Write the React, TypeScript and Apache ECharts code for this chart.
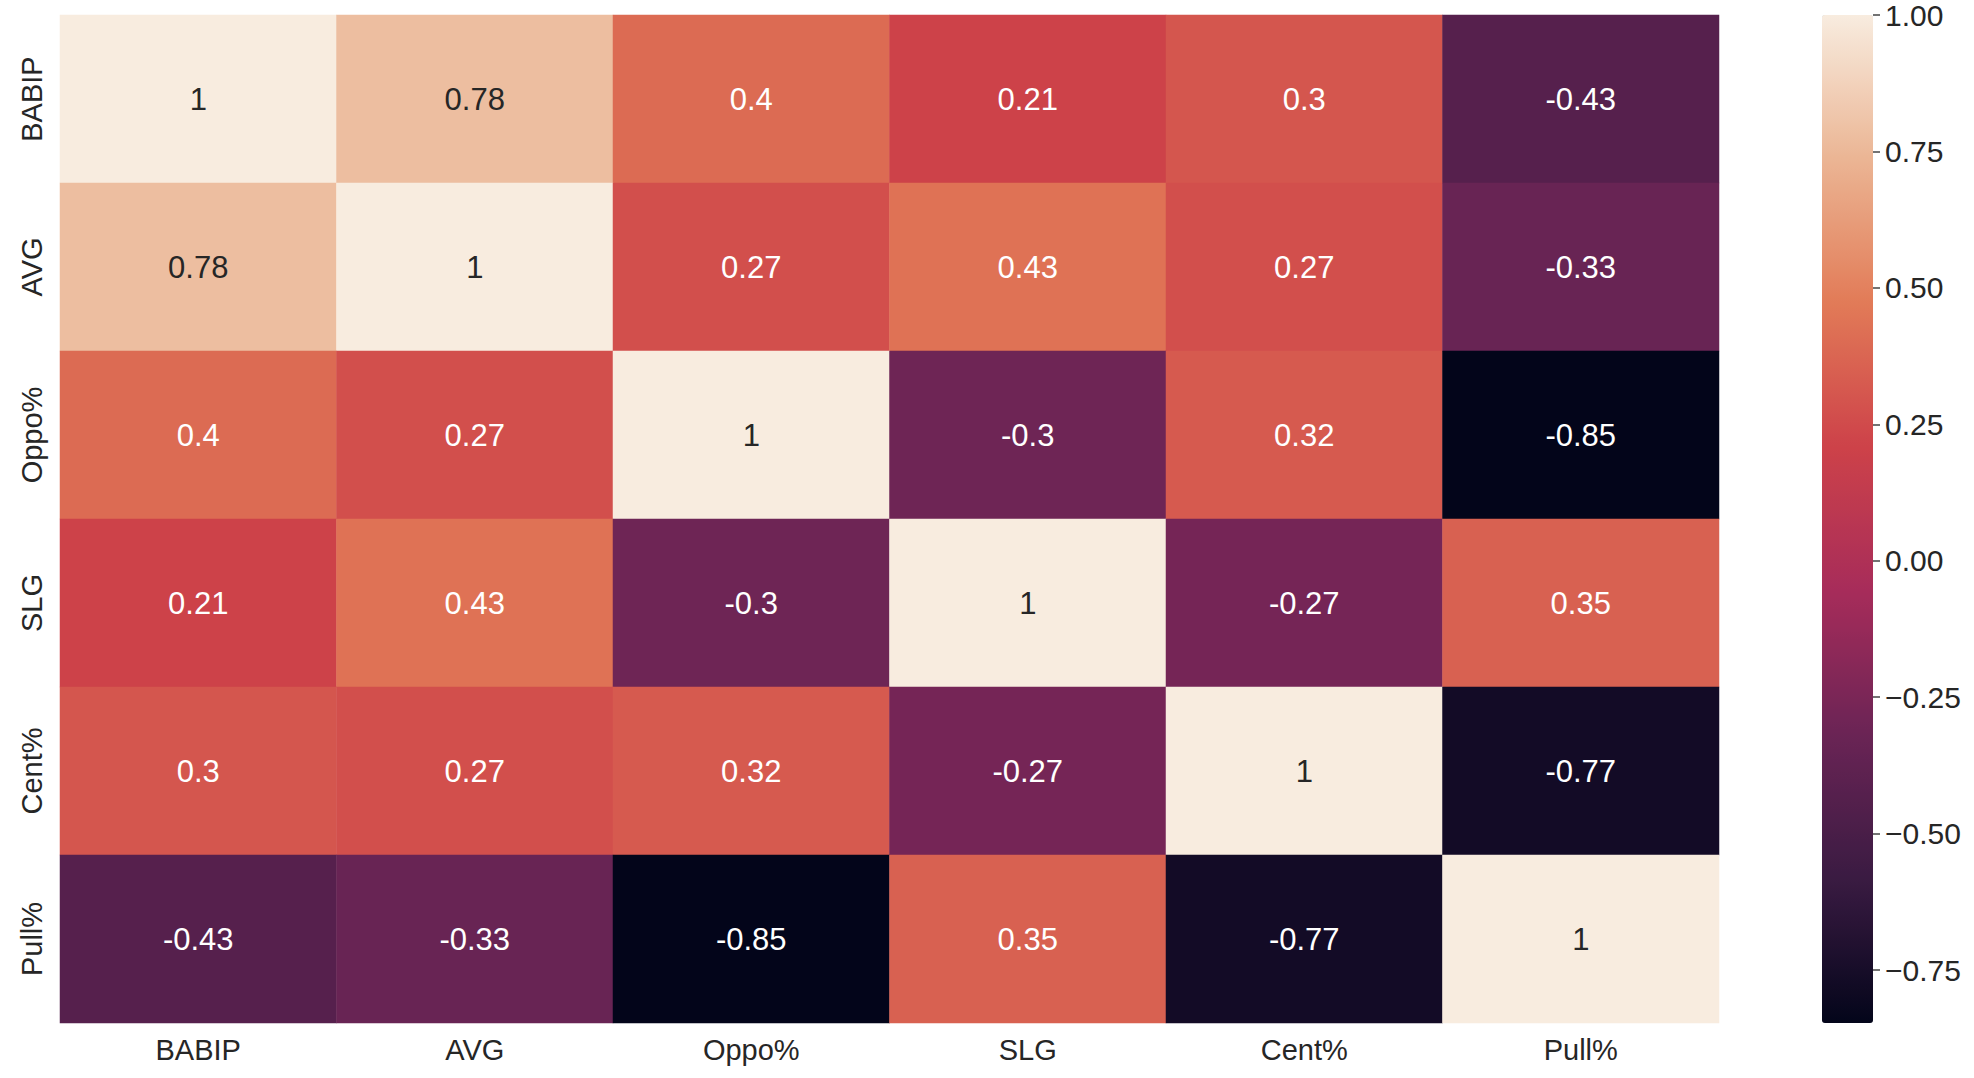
import React, { useEffect, useRef } from "react";
import * as echarts from "echarts";

const labels = ["BABIP", "AVG", "Oppo%", "SLG", "Cent%", "Pull%"];
const rowBABIP = [1, 0.78, 0.4, 0.21, 0.3, -0.43];
const rowAVG = [0.78, 1, 0.27, 0.43, 0.27, -0.33];
const rowOppo = [0.4, 0.27, 1, -0.3, 0.32, -0.85];
const rowSLG = [0.21, 0.43, -0.3, 1, -0.27, 0.35];
const rowCent = [0.3, 0.27, 0.32, -0.27, 1, -0.77];
const rowPull = [-0.43, -0.33, -0.85, 0.35, -0.77, 1];
const matrix = [rowBABIP, rowAVG, rowOppo, rowSLG, rowCent, rowPull];
const colorbarTicks = [-0.75, -0.5, -0.25, 0, 0.25, 0.5, 0.75, 1.0];
const vMin = -0.847;
const vMax = 1;
const rocket = ["#03051a", "#3a1b42", "#6a2455", "#a72c5a", "#cd4249", "#e27b57", "#ebb594", "#f8ecdf"];

const FONT = "'Liberation Sans', Arial, sans-serif";
const TEXT = "#262626";

export default function App() {
  const ref = useRef<HTMLDivElement>(null);
  useEffect(() => {
    if (!ref.current) return;
    const chart = echarts.init(ref.current, null, { renderer: "svg" });
    const data: any[] = [];
    matrix.forEach((row, yi) => {
      row.forEach((v, xi) => {
        data.push({
          value: [xi, yi, v],
          label: { color: v > 0.6 ? TEXT : "#ffffff" },
        });
      });
    });
    chart.setOption({
      animation: false,
      backgroundColor: "#ffffff",
      textStyle: { fontFamily: FONT },
      grid: [
        { left: 60, top: 15, width: 1659, height: 1008 },
        { left: 1822, top: 15, width: 51, height: 1008 },
      ],
      xAxis: [
        {
          type: "category",
          gridIndex: 0,
          data: labels,
          axisLine: { show: false },
          axisTick: { show: false },
          splitLine: { show: false },
          axisLabel: { fontSize: 29, color: TEXT, fontFamily: FONT, margin: 12 },
        },
        {
          type: "value",
          gridIndex: 1,
          show: false,
          min: 0,
          max: 1,
        },
      ],
      yAxis: [
        {
          type: "category",
          gridIndex: 0,
          data: labels,
          inverse: true,
          axisLine: { show: false },
          axisTick: { show: false },
          splitLine: { show: false },
          axisLabel: { fontSize: 29, color: TEXT, fontFamily: FONT, rotate: 90, margin: 14 },
        },
        {
          type: "value",
          gridIndex: 1,
          position: "right",
          min: vMin,
          max: vMax,
          axisLine: { show: false, onZero: false },
          splitLine: { show: false },
          axisTick: {
            show: true,
            inside: false,
            length: 7,
            lineStyle: { color: "#444444", width: 1.5 },
            customValues: colorbarTicks,
          },
          axisLabel: {
            fontSize: 30,
            color: TEXT,
            fontFamily: FONT,
            margin: 12,
            customValues: colorbarTicks,
            formatter: (v: number) => (v < 0 ? "\u2212" + Math.abs(v).toFixed(2) : v.toFixed(2)),
          },
          z: 10,
        },
      ],
      visualMap: {
        type: "continuous",
        seriesIndex: 0,
        min: vMin,
        max: vMax,
        orient: "vertical",
        left: 1822,
        top: 15,
        padding: 0,
        itemWidth: 51,
        itemHeight: 1008,
        calculable: false,
        hoverLink: false,
        inRange: { color: rocket },
        z: 1,
      },
      series: [
        {
          type: "heatmap",
          xAxisIndex: 0,
          yAxisIndex: 0,
          data,
          itemStyle: { borderWidth: 0 },
          label: {
            show: true,
            fontSize: 31,
            fontFamily: FONT,
            formatter: (p: any) => String(p.value[2]),
          },
          emphasis: { disabled: true },
        },
      ],
    });
    return () => chart.dispose();
  }, []);
  return (
    <div
      ref={ref}
      style={{ position: "fixed", left: 0, top: 0, width: 1974, height: 1078, background: "#fff" }}
    />
  );
}
